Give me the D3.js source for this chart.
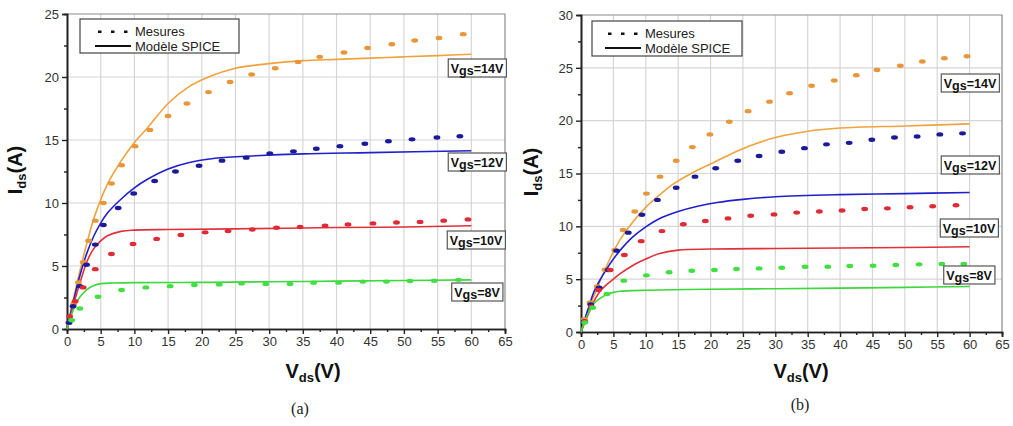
<!DOCTYPE html>
<html><head><meta charset="utf-8">
<script src="https://cdn.jsdelivr.net/npm/d3@7"></script>
<style>
html,body{margin:0;padding:0;background:#fff;}
svg{display:block;font-family:"Liberation Sans",Arial,sans-serif;}
</style></head>
<body><svg id="c" width="1013" height="426"></svg>
<script>
// ---------- DATA ----------
const xTicks = [0,5,10,15,20,25,30,35,40,45,50,55,60,65];
const yTicksA = [0,5,10,15,20,25];
const yTicksB = [0,5,10,15,20,25,30];
const vgsLabels = ["Vgs=14V","Vgs=12V","Vgs=10V","Vgs=8V"];
const legendLabels = ["Mesures","Modèle SPICE"];
const captions = ["(a)","(b)"];

// Panel (a) measured [Vds, Ids]
const aMeas14 = [[0.3,0.5],[1.0,2.0],[1.7,3.7],[2.4,5.3],[3.2,7.0],[4.2,8.6],[5.4,10.0],[6.6,11.55],[8.1,13.0],[10.1,14.5],[12.3,15.8],[15.0,16.9],[17.8,17.9],[21.0,18.8],[24.2,19.6],[27.4,20.2],[30.9,20.7],[34.3,21.2],[37.5,21.6],[41.1,21.95],[44.6,22.3],[48.2,22.6],[51.6,22.9],[55.2,23.1],[58.8,23.4]];
const aMeas12 = [[0.3,0.5],[0.9,1.8],[1.9,3.4],[2.9,5.1],[4.2,6.7],[5.4,8.25],[7.6,9.6],[9.9,10.75],[13.0,11.75],[16.1,12.5],[19.6,12.96],[23.0,13.36],[26.6,13.6],[30.1,13.94],[33.6,14.1],[37.0,14.3],[40.5,14.5],[44.2,14.7],[47.7,14.9],[51.2,15.05],[54.9,15.2],[58.3,15.3]];
const aMeas10 = [[0.4,1.0],[1.2,2.2],[2.4,3.3],[4.2,4.75],[6.6,5.95],[9.8,6.75],[13.3,7.15],[16.9,7.46],[20.5,7.67],[23.9,7.78],[27.5,7.9],[31.1,8.04],[34.6,8.1],[38.3,8.2],[41.7,8.3],[45.4,8.38],[48.9,8.45],[52.4,8.5],[55.9,8.6],[59.5,8.7]];
const aMeas8 = [[0.7,0.7],[1.9,1.63],[4.6,2.56],[8.1,3.1],[11.7,3.3],[15.3,3.4],[18.9,3.49],[22.6,3.54],[25.9,3.62],[29.5,3.57],[33.1,3.57],[36.6,3.68],[40.3,3.68],[43.9,3.76],[47.4,3.76],[50.9,3.81],[54.5,3.83],[58.1,3.9]];
// Panel (a) SPICE model
const aSpice14 = [[0,0],[1,2.5],[2,4.8],[3,6.9],[4,8.8],[6,11.5],[8,13.3],[10,14.8],[12,16.0],[15,17.9],[18,19.2],[21,20.0],[25,20.7],[29,21.0],[35,21.3],[40,21.4],[45,21.5],[50,21.6],[55,21.7],[60,21.8]];
const aSpice12 = [[0,0],[1,2.3],[2,4.4],[3,6.1],[4,7.4],[5,8.4],[6,9.2],[8,10.3],[10,11.2],[12,11.9],[15,12.7],[18,13.2],[22,13.55],[28,13.75],[35,13.9],[45,14.0],[60,14.15]];
const aSpice10 = [[0,0],[1,2.0],[2,3.8],[3,5.4],[4,6.4],[5,7.0],[6,7.4],[8,7.75],[10,7.85],[15,7.9],[25,7.95],[40,8.05],[50,8.1],[60,8.2]];
const aSpice8 = [[0,0],[0.5,0.9],[1,1.6],[1.5,2.2],[2,2.6],[3,3.15],[4,3.45],[5,3.6],[7,3.65],[10,3.68],[20,3.7],[30,3.75],[40,3.8],[50,3.85],[60,3.9]];

// Panel (b) measured
const bMeas14 = [[0.5,1.2],[1.4,2.8],[2.5,4.3],[3.7,5.9],[5.2,7.76],[6.5,9.65],[8.3,11.4],[10.1,13.1],[12.2,14.7],[14.7,16.2],[17.2,17.5],[19.9,18.7],[22.9,19.9],[25.8,20.9],[29.1,21.8],[32.2,22.6],[35.6,23.3],[39.1,23.8],[42.5,24.3],[45.7,24.8],[49.3,25.2],[52.7,25.6],[56.1,25.9],[59.6,26.1]];
const bMeas12 = [[0.5,1.0],[1.5,2.6],[2.8,4.2],[4.2,5.87],[5.5,7.7],[7.3,9.4],[9.4,11.1],[11.8,12.5],[14.7,13.65],[17.6,14.7],[20.8,15.5],[24.2,16.2],[27.5,16.65],[31.0,17.06],[34.5,17.4],[37.9,17.76],[41.4,17.9],[44.9,18.2],[48.4,18.4],[51.9,18.5],[55.4,18.7],[58.9,18.8]];
const bMeas10 = [[0.6,1.0],[1.6,2.4],[2.7,3.97],[4.5,5.87],[6.7,7.28],[9.3,8.6],[12.5,9.55],[15.8,10.2],[19.2,10.5],[22.7,10.75],[26.2,11.0],[29.8,11.13],[33.3,11.3],[36.8,11.4],[40.3,11.5],[43.8,11.64],[47.3,11.7],[50.8,11.8],[54.3,11.9],[57.9,12.0]];
const bMeas8 = [[0.6,0.9],[1.8,2.3],[4.0,3.6],[6.6,4.86],[10.1,5.36],[13.6,5.65],[17.1,5.8],[20.6,5.87],[24.0,5.96],[27.5,6.02],[31.0,6.08],[34.6,6.18],[38.1,6.18],[41.5,6.24],[45.1,6.27],[48.6,6.34],[52.2,6.4],[55.7,6.43],[59.1,6.43]];
// Panel (b) SPICE model
const bSpice14 = [[0,0],[1,1.8],[2,3.4],[3,4.9],[4,6.3],[5,7.6],[6,8.7],[8,10.4],[10,11.8],[12,12.9],[14,13.9],[17,15.0],[20,15.9],[23,16.8],[26,17.6],[30,18.4],[35,19.0],[40,19.3],[50,19.5],[60,19.7]];
const bSpice12 = [[0,0],[1,2.0],[2,3.8],[3,5.0],[4,6.0],[5,6.9],[6,7.7],[8,9.0],[10,9.95],[12,10.7],[15,11.4],[18,11.9],[21,12.25],[25,12.55],[30,12.8],[40,13.0],[50,13.1],[60,13.2]];
const bSpice10 = [[0,0],[1,1.5],[2,2.9],[3,3.9],[4,4.5],[5,5.0],[6,5.5],[8,6.3],[10,6.9],[12,7.4],[15,7.75],[20,7.85],[30,7.9],[40,7.95],[50,8.0],[60,8.07]];
const bSpice8 = [[0,0],[0.5,0.9],[1,1.6],[1.5,2.2],[2,2.7],[3,3.2],[4,3.55],[5,3.75],[6,3.85],[8,3.92],[10,3.95],[20,4.05],[30,4.1],[40,4.15],[50,4.22],[60,4.3]];

// ---------- STYLE / LAYOUT ----------
const lineColors = ["#f0a23c","#2020cc","#e0303a","#3cd83c"];
const dotColors = ["#e8963a","#1a1a9a","#e02a36","#40e040"];

const panels = [
  {x0:67,x1:505,y0:329,y1:14,yMax:25,yTicks:yTicksA,
   meas:[aMeas14,aMeas12,aMeas10,aMeas8],spice:[aSpice14,aSpice12,aSpice10,aSpice8],
   labelPos:[[477,68],[477,162],[476,240],[477,292]],
   legend:{x:80,y:19,w:159,h:34,tx:135},
   yTitleX:22,yTitleY:170,xTitleX:313,xTitleY:378,capX:300,capY:414,cap:captions[0]},
  {x0:581,x1:1002,y0:332,y1:15,yMax:30,yTicks:yTicksB,
   meas:[bMeas14,bMeas12,bMeas10,bMeas8],spice:[bSpice14,bSpice12,bSpice10,bSpice8],
   labelPos:[[970,83],[970,165],[969,228],[969,275]],
   legend:{x:592,y:21,w:150,h:35,tx:645},
   yTitleX:538,yTitleY:172,xTitleX:801,xTitleY:378,capX:800,capY:410,cap:captions[1]}
];

const svg = d3.select("#c");

panels.forEach(p => {
  const x = d3.scaleLinear().domain([0,65]).range([p.x0,p.x1]);
  const y = d3.scaleLinear().domain([0,p.yMax]).range([p.y0,p.y1]);
  const g = svg.append("g");

  // grid
  g.selectAll(".vg").data(xTicks.slice(1,-1)).join("line")
    .attr("x1",d=>x(d)).attr("x2",d=>x(d)).attr("y1",p.y0).attr("y2",p.y1)
    .attr("stroke","#d6d6d6").attr("stroke-width",1.2);
  g.selectAll(".hg").data(p.yTicks.slice(1,-1)).join("line")
    .attr("y1",d=>y(d)).attr("y2",d=>y(d)).attr("x1",p.x0).attr("x2",p.x1)
    .attr("stroke","#d6d6d6").attr("stroke-width",1.2);

  // frame top/right
  g.append("path").attr("d",`M${p.x0},${p.y1}H${p.x1}V${p.y0}`)
    .attr("fill","none").attr("stroke","#8a8a8a").attr("stroke-width",1.2);

  // axes
  const xAxis = d3.axisBottom(x).tickValues(xTicks).tickSize(5).tickPadding(3).tickFormat(d3.format("d"));
  const xMinor = d3.axisBottom(x).tickValues(d3.range(2.5,65,5)).tickSize(3).tickFormat("");
  const yAxis = d3.axisLeft(y).tickValues(p.yTicks).tickSize(5).tickPadding(3).tickFormat(d3.format("d"));
  const yMinor = d3.axisLeft(y).tickValues(d3.range(2.5,p.yMax,5)).tickSize(3).tickFormat("");
  [xAxis,xMinor].forEach(a=>{
    const ag = g.append("g").attr("transform",`translate(0,${p.y0})`).call(a);
    ag.select(".domain").attr("stroke","#222").attr("stroke-width",1.6);
    ag.selectAll("line").attr("stroke","#222").attr("stroke-width",1.4);
    ag.selectAll("text").attr("font-size",13).attr("fill","#333").attr("font-family","'Liberation Sans',Arial,sans-serif");
  });
  [yAxis,yMinor].forEach(a=>{
    const ag = g.append("g").attr("transform",`translate(${p.x0},0)`).call(a);
    ag.select(".domain").attr("stroke","#222").attr("stroke-width",1.6);
    ag.selectAll("line").attr("stroke","#222").attr("stroke-width",1.4);
    ag.selectAll("text").attr("font-size",13).attr("fill","#333").attr("font-family","'Liberation Sans',Arial,sans-serif");
  });

  // spice lines
  const line = d3.line().x(d=>x(d[0])).y(d=>y(d[1])).curve(d3.curveCatmullRom.alpha(0.5));
  p.spice.forEach((s,i)=>{
    g.append("path").attr("d",line(s)).attr("fill","none")
      .attr("stroke",lineColors[i]).attr("stroke-width",1.6);
  });
  // measured dots
  p.meas.forEach((s,i)=>{
    g.selectAll(null).data(s).join("ellipse")
      .attr("cx",d=>x(d[0])).attr("cy",d=>y(d[1]))
      .attr("rx",3.4).attr("ry",2.2).attr("fill",dotColors[i]);
  });

  // Vgs labels
  vgsLabels.forEach((t,i)=>{
    const [cx,cy] = p.labelPos[i];
    const lg = g.append("g");
    const txt = lg.append("text").attr("x",cx).attr("y",cy+4.5).attr("text-anchor","middle")
      .attr("font-size",12.5).attr("font-weight","bold").attr("fill","#111");
    txt.append("tspan").text("V");
    txt.append("tspan").attr("dy",2).text(t.slice(1,3));
    txt.append("tspan").attr("dy",-2).text(t.slice(3));
    const bb = txt.node().getBBox();
    lg.insert("rect","text").attr("x",bb.x-2.5).attr("y",cy-9).attr("width",bb.width+5).attr("height",18)
      .attr("fill","#fff").attr("stroke","#555").attr("stroke-width",1.2);
  });

  // legend
  const L = p.legend;
  g.append("rect").attr("x",L.x).attr("y",L.y).attr("width",L.w).attr("height",L.h)
    .attr("fill","#fff").attr("stroke","#444").attr("stroke-width",1.2);
  const lx0 = L.tx-40;
  [0,1,2].forEach(k=>{
    g.append("rect").attr("x",lx0+3+k*13).attr("y",L.y+11.5).attr("width",3.5).attr("height",2.5).attr("fill","#111");
  });
  g.append("line").attr("x1",lx0).attr("x2",L.tx-4).attr("y1",L.y+27).attr("y2",L.y+27)
    .attr("stroke","#111").attr("stroke-width",2);
  legendLabels.forEach((t,k)=>{
    g.append("text").attr("x",L.tx).attr("y",L.y+17+k*15).attr("font-size",13).attr("fill","#222").text(t);
  });

  // axis titles
  const yt = g.append("text").attr("transform",`translate(${p.yTitleX},${p.yTitleY}) rotate(-90)`)
    .attr("text-anchor","middle").attr("font-weight","bold").attr("font-size",20).attr("fill","#111");
  yt.append("tspan").text("I");
  yt.append("tspan").attr("font-size",13).attr("dy",4).text("ds");
  yt.append("tspan").attr("dy",-4).text("(A)");
  const xt = g.append("text").attr("x",p.xTitleX).attr("y",p.xTitleY)
    .attr("text-anchor","middle").attr("font-weight","bold").attr("font-size",20).attr("fill","#111");
  xt.append("tspan").text("V");
  xt.append("tspan").attr("font-size",13).attr("dy",4).text("ds");
  xt.append("tspan").attr("dy",-4).text("(V)");

  g.append("text").attr("x",p.capX).attr("y",p.capY).attr("text-anchor","middle")
    .attr("font-family","'Liberation Serif','Times New Roman',serif").attr("font-size",16).attr("fill","#222").text(p.cap);
});
</script></body></html>
